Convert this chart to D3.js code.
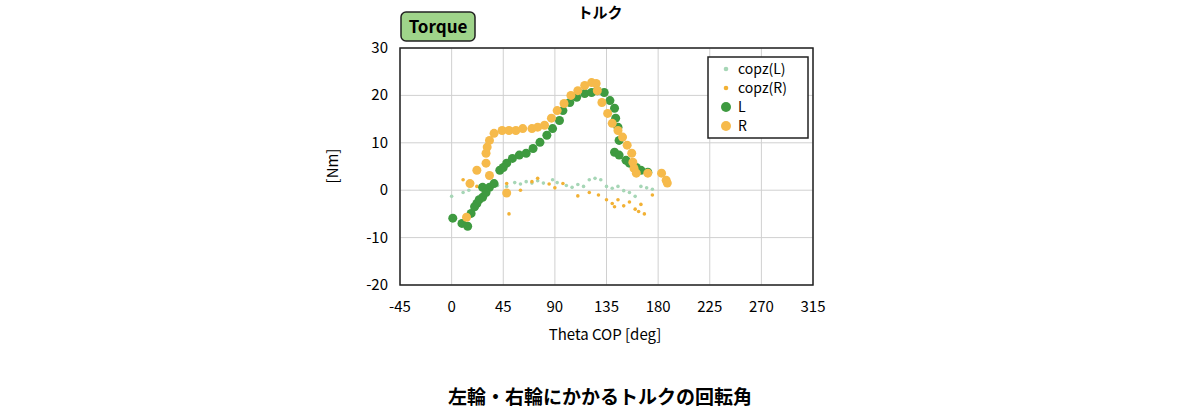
<!DOCTYPE html>
<html><head><meta charset="utf-8">
<script src="https://cdn.jsdelivr.net/npm/d3@7"></script>
<style>body{margin:0;background:#fff;font-family:"Noto Sans CJK JP","Noto Sans",sans-serif}</style>
</head><body><svg id="c" width="1200" height="410"></svg>
<script>
const xTicks=[-45,0,45,90,135,180,225,270,315];
const yTicks=[-20,-10,0,10,20,30];
const copzL=[[0,-1.3],[10,-0.5],[15,0],[25,1],[40,1],[48,0.8],[55,1.6],[60,1.3],[65,1.8],[70,1.5],[75,2],[80,1.5],[88,2.2],[92,1.6],[100,1],[105,0.6],[110,1.2],[115,0.8],[120,2.2],[125,2.5],[130,2.2],[135,0.8],[140,0.4],[145,0.8],[150,-0.1],[155,-0.5],[160,-1.3],[165,0.8],[170,0.5],[175,0.2]];
const copzR=[[10,2.2],[18,1.6],[22,0.8],[48,1.4],[50,-5],[60,0],[70,1.8],[75,2.5],[85,1.3],[90,0.5],[97,1.4],[110,-1.2],[120,-0.5],[128,-1],[135,-2],[140,-2.8],[142,-3.5],[145,-2],[150,-3.3],[155,-2.5],[160,-4],[163,-4.5],[165,-3],[168,-5],[175,-1]];
const seriesL=[[1,-5.9],[9,-7],[14,-7.6],[17,-4.9],[22,-2.8],[27,-1.5],[27,0.6],[33,0.6],[37,1.4],[42,4.2],[48,5.7],[53,6.7],[59,7.4],[65,7.8],[71,8.8],[77,10.1],[83,11.6],[88,13],[94,14.7],[97,16.8],[103,18.5],[109,19.6],[116,20.4],[122,20.6],[127,21],[133,20.6],[138,18.9],[142,17.3],[143,15.2],[145,13.3],[146,10.5],[142,8],[146,7.4],[152,6.3],[155,5.7],[161,4.8],[165,4.2],[171,3.8],[20,-3.5],[24,-2],[30,-0.5],[45,4.8]];
const seriesR=[[13,-5.7],[16,1.4],[22,4.2],[33,3.1],[48,-0.6],[30,5.7],[30,7.8],[31,9.1],[33,10.5],[37,12],[44,12.6],[50,12.6],[56,12.6],[62,13],[70,13],[75,13.3],[81,13.7],[87,15.2],[92,16.8],[98,18.3],[104,20],[110,21],[116,22.1],[122,22.7],[126,22.5],[127,21],[131,18.5],[136,16.2],[140,14.1],[145,12.6],[149,11.2],[153,9.5],[157,7.8],[158,5.9],[159,4.6],[161,3.6],[171,3.6],[183,3.6],[187,2.1],[188,1.5]];
const svg=d3.select("#c");
const x=d3.scaleLinear().domain([-45,315]).range([400,813]);
const y=d3.scaleLinear().domain([-20,30]).range([285,48]);
svg.append("g").selectAll("line").data(xTicks).join("line").attr("x1",d=>x(d)).attr("x2",d=>x(d)).attr("y1",48).attr("y2",285).attr("stroke","#d0d0d0");
svg.append("g").selectAll("line").data(yTicks).join("line").attr("y1",d=>y(d)).attr("y2",d=>y(d)).attr("x1",400).attr("x2",813).attr("stroke","#d0d0d0");
svg.append("rect").attr("x",400).attr("y",48).attr("width",413).attr("height",237).attr("fill","none").attr("stroke","#222").attr("stroke-width",1.5);
svg.append("g").selectAll("text").data(xTicks).join("text").attr("x",d=>x(d)).attr("y",312).attr("text-anchor","middle").attr("font-size",15).text(d=>d);
svg.append("g").selectAll("text").data(yTicks).join("text").attr("x",388).attr("y",d=>y(d)+5).attr("text-anchor","end").attr("font-size",15).text(d=>d);
const dot=(data,r,c)=>svg.append("g").selectAll("circle").data(data).join("circle").attr("cx",d=>x(d[0])).attr("cy",d=>y(d[1])).attr("r",r).attr("fill",c);
dot(copzL,1.8,"#a6d6b6");dot(copzR,1.8,"#f2b134");dot(seriesL,4.5,"#3e9a40");dot(seriesR,4.5,"#f6ba4b");
const lg=svg.append("g");
lg.append("rect").attr("x",708).attr("y",57).attr("width",100).attr("height",81).attr("fill","#fff").attr("stroke","#222").attr("stroke-width",1.5);
[["copz(L)",1.8,"#a6d6b6"],["copz(R)",1.8,"#f2b134"],["L",4.5,"#3e9a40"],["R",4.5,"#f6ba4b"]].forEach((d,i)=>{
 lg.append("circle").attr("cx",726).attr("cy",69+i*19).attr("r",d[1]+0.5).attr("fill",d[2]);
 lg.append("text").attr("x",738).attr("y",74+i*19).attr("font-size",14).text(d[0]);
});
svg.append("text").attr("x",600).attr("y",18).attr("text-anchor","middle").attr("font-weight","bold").attr("font-size",15).text("トルク");
svg.append("rect").attr("x",401).attr("y",12).attr("width",74).attr("height",29).attr("rx",5).attr("fill","#9fd48a").attr("stroke","#222").attr("stroke-width",1.5);
svg.append("text").attr("x",438).attr("y",33).attr("text-anchor","middle").attr("font-weight","bold").attr("font-size",17).text("Torque");
svg.append("text").attr("transform","translate(338,166) rotate(-90)").attr("text-anchor","middle").attr("font-size",15).text("[Nm]");
svg.append("text").attr("x",605).attr("y",340).attr("text-anchor","middle").attr("font-size",15).text("Theta COP [deg]");
svg.append("text").attr("x",600).attr("y",404).attr("text-anchor","middle").attr("font-weight","bold").attr("font-size",19).text("左輪・右輪にかかるトルクの回転角");
</script></body></html>
